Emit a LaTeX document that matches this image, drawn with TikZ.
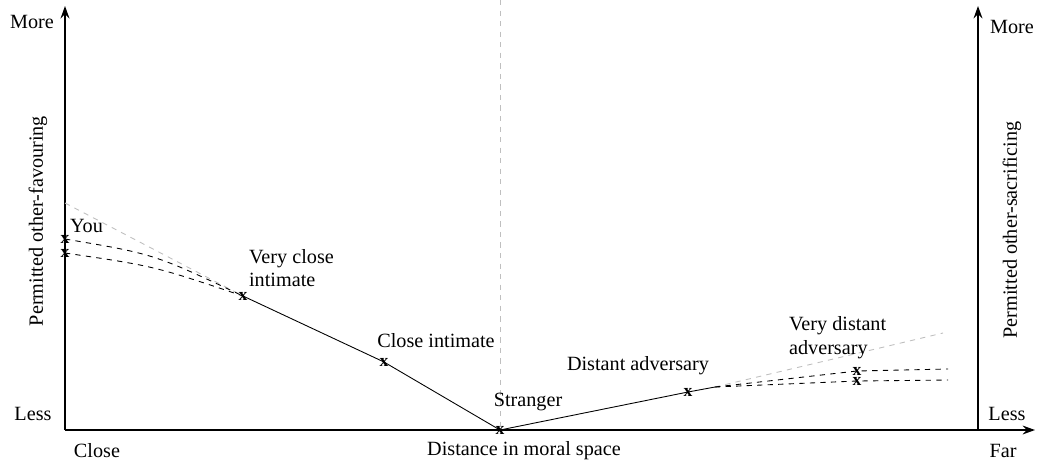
\documentclass[tikz,border=0pt]{standalone}
\usepackage{fontspec}
\setmainfont{Liberation Serif}
\usepackage{tikz}
\usetikzlibrary{arrows.meta,positioning,calc}

\tikzset{
  axis/.style={line width=1.1pt, -{Stealth[length=7pt,width=5pt]}},
  lbl/.style={font=\fontsize{11.5}{13.5}\selectfont, inner sep=1pt},
  xmark/.style={font=\bfseries\fontsize{10}{10}\selectfont, inner sep=0pt},
  curve/.style={line width=0.5pt},
  guess/.style={line width=0.5pt, dashed},
  ghost/.style={line width=0.5pt, dashed, black!25},
}

\begin{document}
\begin{tikzpicture}[x=0.02cm, y=-0.02cm]
\useasboundingbox (0,0) rectangle (1037,461);

% Axes
\coordinate (origin) at (65,430);
\coordinate (ytop) at (65,6);
\coordinate (xend) at (1035,430);
\coordinate (rbase) at (978,430);
\coordinate (rtop) at (978,6);
\draw[axis] (origin) -- (ytop);
\draw[axis] (origin) -- (xend);
\draw[axis] (rbase) -- (rtop);

% Midline
\coordinate (midtop) at (500,0);
\coordinate (stranger) at (500,430);
\draw[ghost] (midtop) -- (stranger);

% Axis labels
\node[lbl] (moreL) at (32,22) {More};
\node[lbl] (lessL) at (33,414) {Less};
\node[lbl] (moreR) at (1012,27) {More};
\node[lbl] (lessR) at (1007,414) {Less};
\node[lbl] (close) at (97,451) {Close};
\node[lbl] (far) at (1003,451) {Far};
\node[lbl] (xlabel) at (524,451) {Distance in moral space};
\node[lbl, rotate=90] (ylabelL) at (38,221) {Permitted other-favouring};
\node[lbl, rotate=90] (ylabelR) at (1012,230) {Permitted other-sacrificing};

% Points on the curve
\coordinate (you1) at (65,239);
\coordinate (you2) at (65,253);
\coordinate (vclose) at (243,296);
\coordinate (cintimate) at (384,362);
\coordinate (dadv) at (688,392);
\coordinate (kink) at (715,387);
\coordinate (vdist1) at (857,371);
\coordinate (vdist2) at (857,381);
\coordinate (end1) at (948,369);
\coordinate (end2) at (948,380);
\coordinate (ghostL) at (65,203);
\coordinate (ghostR) at (943,333);

% Main curve
\draw[curve] (vclose) -- (cintimate) -- (stranger) -- (dadv) -- (kink);

% Grey extrapolations
\draw[ghost] (ghostL) -- (vclose);
\draw[ghost] (kink) -- (ghostR);

% Dashed alternatives
\draw[guess] (you1) .. controls (154,254) .. (vclose);
\draw[guess] (you2) .. controls (154,266) .. (vclose);
\draw[guess] (kink) -- (vdist1) -- (end1);
\draw[guess] (kink) -- (vdist2) -- (end2);

% Marks
\foreach \p in {you1,you2,vclose,cintimate,stranger,dadv,vdist1,vdist2}
  \node[xmark] (m-\p) at (\p) {x};

% Point labels
\node[lbl, anchor=west] (youlbl) at (68,226) {You};
\node[lbl, anchor=west, align=left] (vcloselbl) at (247,268) {Very close\\intimate};
\node[lbl] (cintimatelbl) at (436,341) {Close intimate};
\node[lbl] (strangerlbl) at (528,402) {Stranger};
\node[lbl] (dadvlbl) at (638,366) {Distant adversary};
\node[lbl, anchor=west, align=left] (vdistlbl) at (787,338) {Very distant\\adversary};

\end{tikzpicture}
\end{document}
